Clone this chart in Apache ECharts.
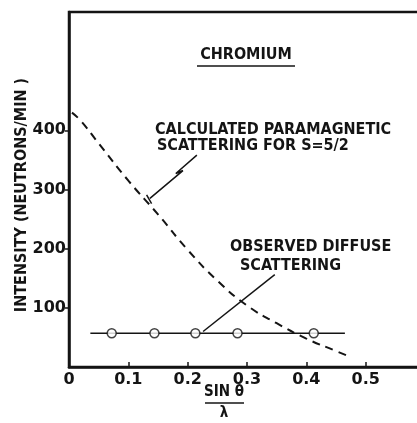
<!DOCTYPE html>
<html><head><meta charset="utf-8">
<script src="https://cdn.jsdelivr.net/npm/echarts@6/dist/echarts.min.js"></script>
<style>html,body{margin:0;padding:0;background:#fff}#c{width:417px;height:423px}</style>
</head><body><div id="c"></div>
<script>
// ---- data ----
const xTickValues = [0, 0.1, 0.2, 0.3, 0.4, 0.5];
const xTickLabels = ['0', '0.1', '0.2', '0.3', '0.4', '0.5'];
const yTickValues = [100, 200, 300, 400];
const yTickLabels = ['100', '200', '300', '400'];
// calculated paramagnetic scattering (dashed curve)
const calcX = [0.005, 0.02, 0.05, 0.1, 0.15, 0.2, 0.25, 0.3, 0.35, 0.4, 0.45, 0.467];
const calcY = [430, 416, 378, 315, 258, 198, 146, 104, 74, 48, 27, 20];
// observed diffuse scattering
const obsLineX = [0.036, 0.465];
const obsLineY = [57, 57];
const obsX = [0.072, 0.144, 0.213, 0.284, 0.4125];
const obsY = [57, 57, 57, 57, 57];
// annotation leader lines (data coordinates)
const calcLeaderX = [0.2155, 0.180, 0.192, 0.1364];
const calcLeaderY = [358, 327, 332, 285];
const calcTickX = [0.1308, 0.1392];
const calcTickY = [291, 276];
const obsLeaderX = [0.3468, 0.226];
const obsLeaderY = [156, 60];

const zip = (a, b) => a.map((v, i) => [v, b[i]]);
const F = '"DejaVu Sans", sans-serif';
const FC = '"DejaVu Sans Condensed", "DejaVu Sans", sans-serif';
const INK = '#141414';

const chart = echarts.init(document.getElementById('c'), null, {renderer: 'canvas'});
chart.setOption({
  animation: false,
  backgroundColor: '#fff',
  grid: {left: 69, top: 12, right: -8, bottom: 56, show: true, borderColor: INK, borderWidth: 2.5,
         outerBoundsMode: 'none', containLabel: false},
  xAxis: {
    type: 'value', min: 0, max: 0.6, interval: 0.1,
    axisLine: {lineStyle: {color: INK, width: 2.5}},
    axisTick: {inside: true, length: 5, lineStyle: {color: INK, width: 1.5},
               customValues: xTickValues.slice(1)},
    axisLabel: {customValues: xTickValues, color: INK, fontFamily: F, fontWeight: 'bold', fontSize: 16, margin: 5,
                formatter: v => xTickLabels[xTickValues.findIndex(t => Math.abs(t - v) < 1e-9)] || ''},
    splitLine: {show: false}
  },
  yAxis: {
    type: 'value', min: 0, max: 600, interval: 100,
    axisLine: {lineStyle: {color: INK, width: 2.5}},
    axisTick: {length: 4, lineStyle: {color: INK, width: 1.5}, customValues: yTickValues},
    axisLabel: {customValues: yTickValues, color: INK, fontFamily: F, fontWeight: 'bold', fontSize: 16, margin: 3,
                formatter: v => yTickLabels[yTickValues.indexOf(v)] || ''},
    splitLine: {show: false}
  },
  series: [
    {type: 'line', data: zip(calcX, calcY), smooth: true, symbol: 'none',
     lineStyle: {color: INK, width: 2, type: [8, 6]}},
    {type: 'line', data: zip(obsLineX, obsLineY), symbol: 'none', lineStyle: {color: INK, width: 1.6}},
    {type: 'scatter', data: zip(obsX, obsY), symbol: 'circle', symbolSize: 9, z: 5,
     itemStyle: {color: '#fff', borderColor: INK, borderWidth: 1.5}},
    {type: 'line', data: zip(calcLeaderX, calcLeaderY), symbol: 'none', lineStyle: {color: INK, width: 1.5}},
    {type: 'line', data: zip(calcTickX, calcTickY), symbol: 'none', lineStyle: {color: INK, width: 1.5}},
    {type: 'line', data: zip(obsLeaderX, obsLeaderY), symbol: 'none', lineStyle: {color: INK, width: 1.5}}
  ],
  graphic: [
    {type: 'text', x: 246, y: 55, style: {text: 'CHROMIUM', font: 'bold 16px ' + FC, fill: INK, align: 'center', verticalAlign: 'middle'}},
    {type: 'line', shape: {x1: 197, y1: 66, x2: 295, y2: 66}, style: {stroke: INK, lineWidth: 1.5}},
    {type: 'text', x: 155, y: 130, style: {text: 'CALCULATED PARAMAGNETIC', font: 'bold 16px ' + FC, fill: INK, align: 'left', verticalAlign: 'middle'}},
    {type: 'text', x: 157, y: 146, style: {text: 'SCATTERING FOR S=5/2', font: 'bold 16px ' + FC, fill: INK, align: 'left', verticalAlign: 'middle'}},
    {type: 'text', x: 230, y: 247, style: {text: 'OBSERVED DIFFUSE', font: 'bold 16px ' + FC, fill: INK, align: 'left', verticalAlign: 'middle'}},
    {type: 'text', x: 240, y: 266, style: {text: 'SCATTERING', font: 'bold 16px ' + FC, fill: INK, align: 'left', verticalAlign: 'middle'}},
    {type: 'text', x: 22, y: 195, rotation: Math.PI / 2, style: {text: 'INTENSITY (NEUTRONS/MIN )', font: 'bold 16px ' + FC, fill: INK, align: 'center', verticalAlign: 'middle'}},
    {type: 'text', x: 224, y: 392, style: {text: 'SIN θ', font: 'bold 15px ' + FC, fill: INK, align: 'center', verticalAlign: 'middle'}},
    {type: 'line', shape: {x1: 205, y1: 403, x2: 244, y2: 403}, style: {stroke: INK, lineWidth: 1.5}},
    {type: 'text', x: 224, y: 413, style: {text: 'λ', font: 'bold 15px ' + FC, fill: INK, align: 'center', verticalAlign: 'middle'}}
  ]
});
</script></body></html>
